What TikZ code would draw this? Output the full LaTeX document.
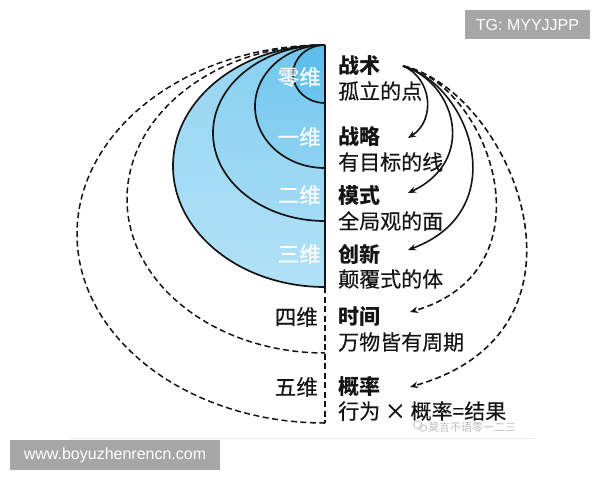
\documentclass[tikz,border=0pt]{standalone}
\usepackage{fontspec}
\setmainfont{Noto Sans CJK SC}
\newfontfamily\medfont[FakeBold=0.3]{Noto Sans CJK SC}
\newfontfamily\latfont{Liberation Sans}
\usetikzlibrary{arrows.meta}
\definecolor{linec}{HTML}{141414}
\definecolor{tagc}{HTML}{A6A6A6}
\definecolor{eTt}{HTML}{96D5F2}
\definecolor{eTb}{HTML}{B0E1F7}
\definecolor{eSt}{HTML}{88D0F1}
\definecolor{eSb}{HTML}{A2DBF5}
\definecolor{eOt}{HTML}{72C7EF}
\definecolor{eOb}{HTML}{8DD2F2}
\definecolor{eZt}{HTML}{58BDEB}
\definecolor{eZb}{HTML}{6EC6EE}
\definecolor{wmc}{HTML}{BDBDBD}
\begin{document}
\begin{tikzpicture}[x=1pt,y=1pt,
  ring/.style={draw=linec, line width=1.7pt},
  dring/.style={draw=linec, line width=1.5pt, dash pattern=on 6pt off 3.5pt},
  head/.style={anchor=west, inner sep=0pt, text=linec, font=\fontsize{21}{21}\selectfont\bfseries},
  sub/.style={anchor=west, inner sep=0pt, text=linec, font=\medfont\fontsize{21}{21}\selectfont},
  dimw/.style={anchor=east, inner sep=0pt, text=white, font=\medfont\fontsize{21.5}{21.5}\selectfont},
  dimb/.style={anchor=east, inner sep=0pt, text=linec, font=\medfont\fontsize{21.5}{21.5}\selectfont},
  arr/.style={draw=linec, line width=1.6pt, -{Stealth[length=8pt,width=6.5pt]}},
  darr/.style={arr, dash pattern=on 6pt off 3.5pt},
  tagbox/.style={fill=tagc, text=white, inner sep=0pt, font=\latfont\fontsize{16}{16}\selectfont},
  wm/.style={anchor=west, inner sep=0pt, text=wmc, font=\fontsize{11}{11}\selectfont}
]
\useasboundingbox (0,0) rectangle (600,-480);

% faint frame line
\draw[draw=black!7, line width=0.8pt] (69,-438) -- (535,-438);

% filled nested half ellipses
\shade[top color=eTt, bottom color=eTb] (325,-45) arc[start angle=90,end angle=270,x radius=152,y radius=121] -- cycle;
\shade[top color=eSt, bottom color=eSb] (325,-45) arc[start angle=90,end angle=270,x radius=112,y radius=88] -- cycle;
\shade[top color=eOt, bottom color=eOb] (325,-45) arc[start angle=90,end angle=270,x radius=70,y radius=61.5] -- cycle;
\shade[top color=eZt, bottom color=eZb] (325,-45) arc[start angle=90,end angle=270,x radius=32,y radius=29] -- cycle;

% outlines
\draw[dring] (325,-45) arc[start angle=90,end angle=270,x radius=248,y radius=189];
\draw[dring] (325,-45) arc[start angle=90,end angle=270,x radius=198,y radius=154];
\draw[ring] (325,-45) arc[start angle=90,end angle=270,x radius=152,y radius=121];
\draw[ring] (325,-45) arc[start angle=90,end angle=270,x radius=112,y radius=88];
\draw[ring] (325,-45) arc[start angle=90,end angle=270,x radius=70,y radius=61.5];
\draw[ring] (325,-45) arc[start angle=90,end angle=270,x radius=32,y radius=29];
\draw[ring] (325,-45) -- (325,-287);
\draw[dring] (325,-287) -- (325,-423);

% dimension labels
\node[dimw] (l0) at (321,-77)  {零维};
\node[dimw] (l1) at (321,-137) {一维};
\node[dimw] (l2) at (321,-195) {二维};
\node[dimw] (l3) at (321,-254) {三维};
\node[dimb] (l4) at (318,-317) {四维};
\node[dimb] (l5) at (318,-387) {五维};

% right texts
\node[head] (h0) at (338,-66)  {战术};
\node[sub]  (s0) at (338,-91)  {孤立的点};
\node[head] (h1) at (338,-137) {战略};
\node[sub]  (s1) at (338,-162) {有目标的线};
\node[head] (h2) at (338,-195) {模式};
\node[sub]  (s2) at (338,-221) {全局观的面};
\node[head] (h3) at (338,-254) {创新};
\node[sub]  (s3) at (338,-279) {颠覆式的体};
\node[head] (h4) at (338,-317) {时间};
\node[sub]  (s4) at (338,-342) {万物皆有周期};
\node[head] (h5) at (338,-387) {概率};
\node[sub]  (s5) at (338,-411) {行为 × 概率=结果};

% arrows
\coordinate (src) at (403,-66);
\coordinate (tip1) at (408,-138);
\coordinate (tip2) at (408,-193);
\coordinate (tip3) at (408,-250);
\coordinate (tip4) at (410,-312);
\coordinate (tip5) at (410,-387);
\draw[arr]  (src) .. controls (432,-78) and (436,-120) .. (tip1);
\draw[arr]  (src) .. controls (455,-82) and (478,-160) .. (tip2);
\draw[arr]  (src) .. controls (470,-85) and (515,-210) .. (tip3);
\draw[darr] (src) .. controls (490,-85) and (555,-270) .. (tip4);
\draw[darr] (src) .. controls (510,-90) and (612,-330) .. (tip5);

% watermark
\draw[wmc, line width=0.7pt] (418,-425) ellipse[x radius=4.5pt, y radius=3.8pt];
\draw[wmc, line width=0.7pt] (423,-428) ellipse[x radius=3.8pt, y radius=3.2pt];
\node[wm] (wmt) at (428,-427) {莫言不语零一二三};

% tags
\node[tagbox, minimum width=125pt, minimum height=29pt] (tg) at (527.5,-24.5) {TG: MYYJJPP};
\node[tagbox, minimum width=210pt, minimum height=30pt] (url) at (115,-455) {www.boyuzhenrencn.com};
\end{tikzpicture}
\end{document}
